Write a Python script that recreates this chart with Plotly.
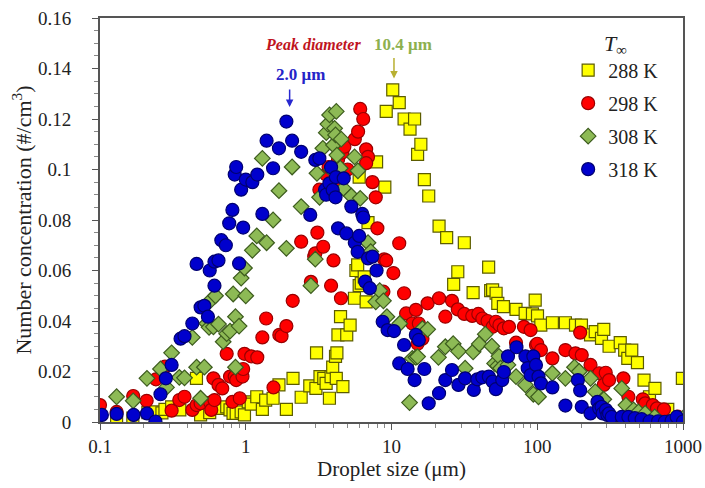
import numpy as np
import plotly.graph_objects as go

# ---------------- data (droplet size in µm, number concentration in #/cm^3) ----------------
x_288 = [0.13, 0.168, 0.213, 0.238, 0.266, 0.279, 0.31, 0.353, 0.459, 0.49, 0.566, 0.66, 0.74, 0.78,
         0.818, 0.86, 0.93, 0.98, 1.04, 1.09, 1.19, 1.30, 1.37, 1.54, 1.69, 1.90, 2.11, 2.40, 2.75,
         3.03, 3.06, 3.23, 3.43, 3.56, 3.75, 3.85, 3.95, 4.13, 4.18, 4.22, 4.29, 4.47, 4.64, 4.93,
         5.2, 5.57, 5.7, 5.86, 6.0, 6.2, 6.5, 6.7, 6.0, 6.9, 7.9, 9.0, 9.2, 10.2, 11.3, 12.2, 13.4,
         14.4, 15.1, 15.9, 16.8, 18.0, 21.2, 23.9, 26.7, 28.5, 31.6, 36.3, 46.4, 47.9, 49.4, 52.2,
         53.6, 58.6, 71.5, 82.6, 92.7, 96.8, 100.4, 105.8, 127, 156, 183, 201, 232, 250, 276, 286,
         311, 371, 398, 418, 445, 487, 540, 589, 642, 786, 990]
y_288 = [0.002, 0.0015, 0.0037, 0.004, 0.0036, 0.005, 0.006, 0.0048, 0.0173, 0.0028, 0.0037, 0.0054,
         0.006, 0.0048, 0.0034, 0.0034, 0.004, 0.0028, 0.008, 0.0071, 0.010, 0.005, 0.0087, 0.0094,
         0.0147, 0.005, 0.0173, 0.0098, 0.0143, 0.0133, 0.0274, 0.018, 0.0173, 0.0153, 0.0094, 0.018,
         0.0217, 0.026, 0.0173, 0.0274, 0.0345, 0.0417, 0.014, 0.0345, 0.0384, 0.049, 0.060, 0.0622,
         0.054, 0.055, 0.0575, 0.0476, 0.097, 0.079, 0.103, 0.093, 0.123, 0.1315, 0.1265, 0.120,
         0.116, 0.120, 0.106, 0.110, 0.096, 0.0895, 0.0776, 0.073, 0.0545, 0.0595, 0.071, 0.0512,
         0.0613, 0.052, 0.0523, 0.051, 0.047, 0.0457, 0.0446, 0.043, 0.0428, 0.0483, 0.042, 0.0384,
         0.0393, 0.0393, 0.0384, 0.0384, 0.0345, 0.0358, 0.0331, 0.0367, 0.030, 0.0314, 0.0285,
         0.0252, 0.0285, 0.0235, 0.0166, 0.010, 0.0133, 0.005, 0.0173]

x_298 = [0.1, 0.13, 0.169, 0.209, 0.242, 0.279, 0.31, 0.35, 0.38, 0.43, 0.46, 0.49, 0.57, 0.58, 0.61,
         0.60, 0.65, 0.69, 0.74, 0.78, 0.81, 0.84, 0.86, 0.91, 0.95, 0.96, 0.98, 1.09, 1.2, 1.3, 1.38,
         1.55, 1.7, 1.76, 1.9, 2.1, 2.4, 2.8, 2.95, 3.0, 3.1, 3.2, 3.4, 3.56, 3.7, 3.85, 4.0, 4.0, 4.2,
         4.3, 4.5, 4.6, 4.75, 5.0, 5.6, 5.9, 6.1, 6.4, 6.7, 6.9, 6.7, 7.4, 7.8, 8.0, 8.8, 8.9, 9.2,
         10.3, 11.3, 12.2, 12.6, 13.9, 14.7, 15.1, 15.4, 16.3, 17.7, 21.2, 23.4, 26, 28.5, 31.6, 35.8,
         39.4, 42, 45.6, 49.4, 52, 55, 59, 64, 71.5, 81, 90, 98, 100, 106, 127, 156, 183, 197, 202,
         232, 266, 286, 295, 311, 390, 422, 530, 550, 620, 663, 740, 920]
y_298 = [0.0067, 0.004, 0.0103, 0.0084, 0.0169, 0.0219, 0.0045, 0.0087, 0.010, 0.0048, 0.0067, 0.0074,
         0.0077, 0.0048, 0.0087, 0.0173, 0.0147, 0.0133, 0.027, 0.018, 0.008, 0.018, 0.0166, 0.0094,
         0.018, 0.021, 0.027, 0.026, 0.0256, 0.0335, 0.041, 0.0137, 0.0345, 0.034, 0.038, 0.048, 0.0714,
         0.0555, 0.0655, 0.0668, 0.075, 0.092, 0.0694, 0.098, 0.101, 0.054, 0.064, 0.090, 0.0945, 0.104,
         0.049, 0.1067, 0.109, 0.100, 0.112, 0.115, 0.124, 0.120, 0.108, 0.105, 0.1025, 0.095, 0.089,
         0.0767, 0.0516, 0.0644, 0.064, 0.059, 0.0708, 0.051, 0.043, 0.039, 0.0444, 0.031, 0.039, 0.033,
         0.047, 0.049, 0.0417, 0.048, 0.0446, 0.0428, 0.042, 0.0428, 0.041, 0.040, 0.0377, 0.0397,
         0.0384, 0.0371, 0.0377, 0.0314, 0.0377, 0.0364, 0.0305, 0.031, 0.0285, 0.0252, 0.0285, 0.0272,
         0.0354, 0.0265, 0.0226, 0.0193, 0.0147, 0.0195, 0.0166, 0.0173, 0.010, 0.009, 0.0074, 0.0067,
         0.0054, 0.005, 0.0021]

x_308 = [0.13, 0.169, 0.21, 0.26, 0.286, 0.31, 0.35, 0.38, 0.43, 0.46, 0.49, 0.52, 0.54, 0.56, 0.57,
         0.60, 0.62, 0.65, 0.70, 0.74, 0.78, 0.82, 0.85, 0.85, 0.90, 0.93, 0.98, 1.0, 1.11, 1.19, 1.3,
         1.39, 1.54, 1.69, 1.9, 2.08, 2.4, 2.8, 3.0, 3.08, 3.21, 3.38, 3.57, 3.66, 3.76, 3.86, 4.0,
         4.07, 4.13, 4.18, 4.22, 4.45, 4.52, 4.69, 5.3, 5.58, 5.88, 6.1, 6.9, 7.2, 7.8, 8.3, 8.8, 9.3,
         11.4, 13.3, 13.9, 14.7, 15.1, 16.3, 17.7, 21, 23.4, 26.5, 28.8, 32, 36.3, 40, 44, 48.8, 51,
         53.6, 54.6, 56, 63, 71.5, 83, 94, 102, 127, 156, 180, 194, 232, 250, 286, 380, 406, 458, 495,
         550, 640, 1000]
y_308 = [0.010, 0.0084, 0.0173, 0.021, 0.0137, 0.0274, 0.0177, 0.0175, 0.0335, 0.0217, 0.0094, 0.0217,
         0.039, 0.0375, 0.048, 0.0377, 0.050, 0.0388, 0.0318, 0.035, 0.036, 0.0507, 0.0417, 0.0217,
         0.038, 0.057, 0.061, 0.050, 0.068, 0.0737, 0.1044, 0.071, 0.080, 0.0916, 0.0688, 0.101, 0.0853,
         0.054, 0.0645, 0.0985, 0.089, 0.1084, 0.1146, 0.118, 0.1216, 0.100, 0.1097, 0.1163, 0.1137,
         0.123, 0.1057, 0.1005, 0.112, 0.0925, 0.0895, 0.105, 0.0995, 0.0886, 0.071, 0.0675, 0.0476,
         0.052, 0.048, 0.0417, 0.039, 0.0077, 0.0252, 0.0256, 0.0259, 0.037, 0.0367, 0.0256, 0.0298,
         0.031, 0.028, 0.0213, 0.0278, 0.0309, 0.0348, 0.030, 0.0232, 0.0222, 0.026, 0.0213, 0.0226,
         0.018, 0.0147, 0.011, 0.010, 0.0193, 0.0173, 0.0217, 0.020, 0.0173, 0.012, 0.009, 0.0133,
         0.0067, 0.0048, 0.004, 0.0034, 0.002, 0.0015]

x_318 = [0.103, 0.13, 0.17, 0.21, 0.24, 0.26, 0.283, 0.31, 0.357, 0.38, 0.43, 0.46, 0.49, 0.52, 0.55,
         0.566, 0.61, 0.61, 0.65, 0.68, 0.73, 0.77, 0.81, 0.84, 0.86, 0.90, 0.93, 0.96, 1.0, 1.11, 1.2,
         1.3, 1.39, 1.54, 1.69, 1.9, 2.08, 2.4, 2.77, 3.0, 3.2, 3.5, 3.56, 3.75, 3.85, 3.95, 4.13, 4.15,
         4.3, 4.7, 4.9, 5.3, 5.6, 5.86, 6.0, 6.3, 6.4, 6.6, 6.9, 7.1, 7.4, 7.9, 8.7, 9.4, 10.4, 11.3,
         12.2, 12.9, 14.4, 14.7, 15.4, 16.8, 18, 21.2, 23.4, 26, 28.8, 32, 36.7, 38.8, 42, 46.5, 49.4,
         52, 57.5, 59, 63, 72, 83, 86, 90, 94, 98, 102, 106, 127, 156, 190, 197, 202, 232, 259, 266,
         276, 281, 296, 303, 311, 324, 380, 422, 467, 520, 590, 675, 750, 835, 905, 1000]
y_318 = [0.0028, 0.0032, 0.0028, 0.0034, 0.0002, 0.011, 0.0173, 0.0226, 0.033, 0.034, 0.039, 0.0626,
         0.0454, 0.046, 0.0417, 0.060, 0.054, 0.0635, 0.064, 0.072, 0.070, 0.0787, 0.084, 0.098, 0.101,
         0.0628, 0.092, 0.077, 0.096, 0.095, 0.098, 0.0824, 0.1114, 0.1005, 0.1084, 0.119, 0.1114,
         0.107, 0.082, 0.1038, 0.1044, 0.092, 0.090, 0.0945, 0.1009, 0.0919, 0.089, 0.097, 0.0767,
         0.0965, 0.0747, 0.0853, 0.071, 0.0674, 0.0737, 0.0824, 0.081, 0.0556, 0.0648, 0.053, 0.0655,
         0.060, 0.0397, 0.0364, 0.036, 0.0232, 0.0305, 0.021, 0.0166, 0.0345, 0.0325, 0.021, 0.0074,
         0.0114, 0.0166, 0.0206, 0.0147, 0.0173, 0.0127, 0.0169, 0.0177, 0.018, 0.016, 0.013, 0.0166,
         0.0198, 0.026, 0.0296, 0.026, 0.0213, 0.0186, 0.026, 0.0226, 0.018, 0.0153, 0.0137, 0.0065,
         0.0166, 0.0125, 0.006, 0.0034, 0.008, 0.0054, 0.006, 0.0034, 0.0048, 0.0028, 0.0034, 0.002,
         0.002, 0.002, 0.0015, 0.0011, 0.0003, 0.0003, 0.0001, 0.0005, 0.002, 0.0002]

series_names = ["288 K", "298 K", "308 K", "318 K"]
peak_diameters = {"318 K": 2.0, "288 K": 10.4}

x_ticks = [0.1, 1, 10, 100, 1000]
x_tick_labels = ["0.1", "1", "10", "100", "1000"]
y_ticks = [0, 0.02, 0.04, 0.06, 0.08, 0.10, 0.12, 0.14, 0.16]
y_tick_labels = ["0", "0.02", "0.04", "0.06", "0.08", "0.1", "0.12", "0.14", "0.16"]

# ---------------- styling ----------------
SERIF = "Liberation Serif, Times New Roman, serif"
TXT = "#222222"
styles = [
    dict(symbol="square", size=12, color="#FFFF00", line=dict(color="#5C5C00", width=1.2)),
    dict(symbol="circle", size=13, color="#FF0000", line=dict(color="#9A0000", width=1.2)),
    dict(symbol="diamond", size=12, color="#8DBA55", line=dict(color="#3D5C1E", width=1.2)),
    dict(symbol="circle", size=13, color="#0000CD", line=dict(color="#000070", width=1.2)),
]
xs = [x_288, x_298, x_308, x_318]
ys = [y_288, y_298, y_308, y_318]

fig = go.Figure()
for name, xv, yv, st in zip(series_names, xs, ys, styles):
    fig.add_trace(go.Scatter(x=xv, y=yv, mode="markers", name=name, marker=st,
                             legendgroup=name))

minor_x = [k * 10.0 ** d for d in range(-1, 3) for k in range(2, 10)]
axis_color = "#555555"

fig.update_xaxes(
    type="log", range=[-1, 3], tickvals=x_ticks, ticktext=x_tick_labels,
    automargin=False,
    showgrid=False, zeroline=False, showline=True, linecolor=axis_color, linewidth=2,
    mirror=True, ticks="outside", ticklen=6, tickcolor=axis_color, tickwidth=1,
    minor=dict(tickvals=minor_x, ticks="outside", ticklen=4, tickcolor="#888888"),
    tickfont=dict(family=SERIF, size=19, color=TXT),
    title=dict(text="Droplet size (μm)", font=dict(family=SERIF, size=21, color=TXT),
               standoff=6),
)
fig.update_yaxes(
    range=[0, 0.16], tickvals=y_ticks, ticktext=y_tick_labels,
    automargin=False,
    showgrid=False, zeroline=False, showline=True, linecolor=axis_color, linewidth=2,
    mirror=True, ticks="outside", ticklen=6, tickcolor=axis_color, tickwidth=1,
    minor=dict(dtick=0.005, ticks="outside", ticklen=4, tickcolor="#888888"),
    tickfont=dict(family=SERIF, size=19, color=TXT),
    ticklabelstandoff=17,
    title=dict(text="Number concentration (#/cm<sup>3</sup>)",
               font=dict(family=SERIF, size=22, color=TXT), standoff=0),
)

annotations = [
    dict(x=0.459, y=0.1495, xref="x", yref="y", text="<b><i>Peak diameter</i></b>",
         showarrow=False, font=dict(family=SERIF, size=16, color="#C0141E")),
    dict(x=1.082, y=0.1495, xref="x", yref="y", text="<b>10.4 μm</b>",
         showarrow=False, font=dict(family=SERIF, size=17, color="#8DB04E")),
    dict(x=np.log10(peak_diameters["288 K"]), y=0.136, xref="x", yref="y", text="",
         showarrow=True, arrowhead=2, arrowsize=1, arrowwidth=1.5, arrowcolor="#B8B032",
         ax=0, ay=-22),
    dict(x=0.377, y=0.1375, xref="x", yref="y", text="<b>2.0 μm</b>",
         showarrow=False, font=dict(family=SERIF, size=17, color="#2424C8")),
    dict(x=np.log10(peak_diameters["318 K"]), y=0.1248, xref="x", yref="y", text="",
         showarrow=True, arrowhead=2, arrowsize=1, arrowwidth=1.5, arrowcolor="#2828D0",
         ax=0, ay=-19),
]

fig.update_layout(
    width=705, height=488,
    margin=dict(l=100, r=22, t=18, b=66, autoexpand=False),
    paper_bgcolor="white", plot_bgcolor="white",
    showlegend=True,
    legend=dict(
        x=0.803, y=0.99, xanchor="left", yanchor="top",
        bgcolor="rgba(255,255,255,0)", borderwidth=0,
        font=dict(family=SERIF, size=20, color=TXT),
        title=dict(text="<i>T</i><sub>∞</sub>", side="top center",
                   font=dict(family=SERIF, size=22, color=TXT)),
        itemwidth=30, tracegroupgap=4,
    ),
    annotations=annotations,
)

fig.write_html("out.html")
